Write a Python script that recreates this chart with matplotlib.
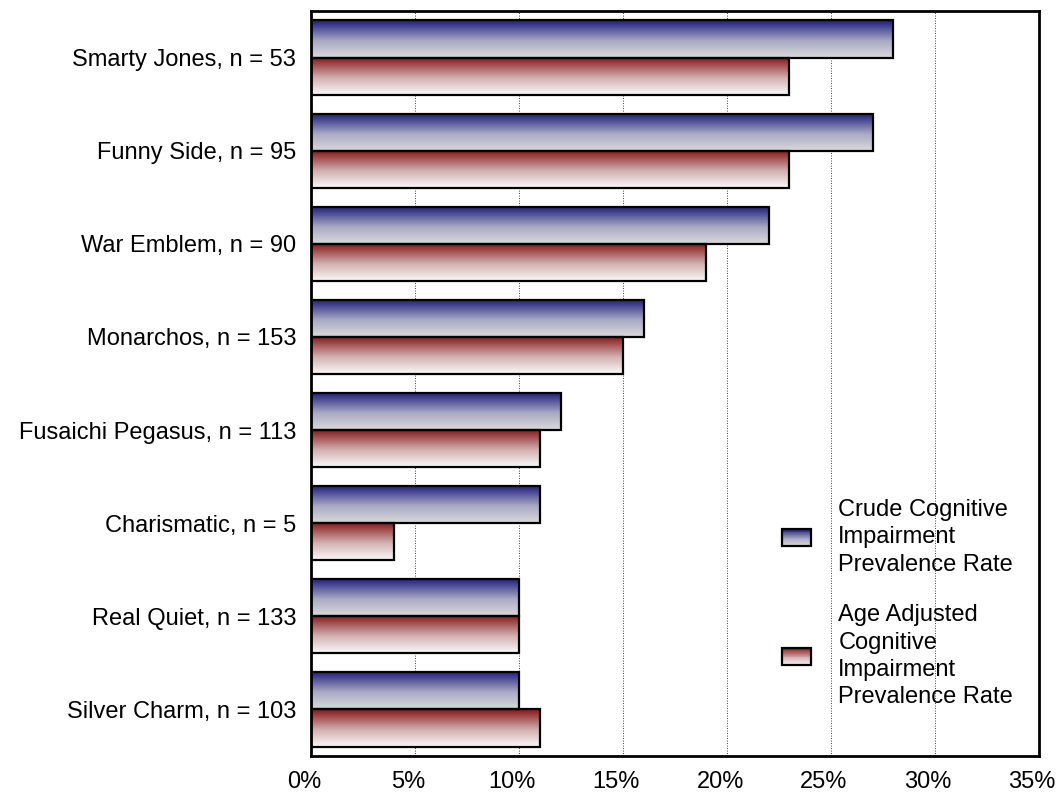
import matplotlib
matplotlib.use("Agg")
import matplotlib.pyplot as plt
import matplotlib.transforms as mtrans
import numpy as np
from matplotlib.patches import Rectangle
from matplotlib.legend_handler import HandlerPatch
from matplotlib.colors import LinearSegmentedColormap

plt.rcParams['font.family'] = ['Liberation Sans', 'DejaVu Sans']

# data
horses = ['Smarty Jones, n = 53', 'Funny Side, n = 95', 'War Emblem, n = 90',
          'Monarchos, n = 153', 'Fusaichi Pegasus, n = 113', 'Charismatic, n = 5',
          'Real Quiet, n = 133', 'Silver Charm, n = 103']
crude = [28, 27, 22, 16, 12, 11, 10, 10]
adjusted = [23, 23, 19, 15, 11, 4, 10, 11]
series_names = ['Crude Cognitive\nImpairment\nPrevalence Rate',
                'Age Adjusted\nCognitive\nImpairment\nPrevalence Rate']

# gradient colours (top -> bottom)
blue_cm = LinearSegmentedColormap.from_list('b', [(0, '#1c1c7c'), (0.55, '#a9a9c4'), (1, '#dadada')])
red_cm = LinearSegmentedColormap.from_list('r', [(0, '#861818'), (0.55, '#d2b0b0'), (1, '#f9f9f9')])

FS = 17

fig = plt.figure(figsize=(10.59, 7.94), dpi=100)
ax = fig.add_axes([0.294, 0.048, 0.687, 0.938])

h = 0.4
grad = np.linspace(0, 1, 64).reshape(-1, 1)


def gbar(y, w, cm):
    # y is the top edge (axis inverted)
    ax.imshow(grad, cmap=cm, aspect='auto', extent=(0, w, y + h, y),
              interpolation='bilinear', zorder=2)
    ax.add_patch(Rectangle((0, y), w, h, fill=False, ec='black', lw=1.6, zorder=3))


for i in range(len(horses)):
    gbar(i - h, crude[i], blue_cm)
    gbar(i, adjusted[i], red_cm)

ax.set_xlim(0, 35)
ax.set_ylim(len(horses) - 0.5, -0.5)
ax.set_xticks(np.arange(0, 36, 5))
ax.set_xticklabels(['%d%%' % v for v in range(0, 36, 5)], fontsize=FS)
ax.set_yticks(range(len(horses)))
ax.set_yticklabels(horses, fontsize=FS)
ax.tick_params(length=0, pad=11)
ax.tick_params(axis='x', pad=11)
# x labels sit a little left of their gridlines in the original
shift = mtrans.ScaledTranslation(-0.07, 0, fig.dpi_scale_trans)
for lab in ax.get_xticklabels():
    lab.set_transform(lab.get_transform() + shift)
ax.grid(axis='x', color='black', ls=(0, (1, 2)), lw=0.6, zorder=1)
ax.set_axisbelow(True)
for s in ax.spines.values():
    s.set_linewidth(2)


class GradHandler(HandlerPatch):
    def __init__(self, cm):
        super().__init__()
        self.cm = cm

    def create_artists(self, legend, orig_handle, xdescent, ydescent, width,
                       height, fontsize, trans):
        arts = []
        n = 20
        for k in range(n):
            c = self.cm(k / (n - 1))
            arts.append(Rectangle((-xdescent, -ydescent + height * (n - 1 - k) / n),
                                  width, height / n, fc=c, ec='none', transform=trans))
        arts.append(Rectangle((-xdescent, -ydescent), width, height, fill=False,
                              ec='black', lw=1.6, transform=trans))
        return arts


hb = Rectangle((0, 0), 1, 1)
hr = Rectangle((0, 0), 1, 1)
leg = ax.legend([hb, hr], series_names, loc='upper left', bbox_to_anchor=(0.647, 0.345),
                frameon=False, fontsize=FS, handlelength=1.23, handleheight=0.76,
                handletextpad=1.15, labelspacing=1.2, borderpad=0, borderaxespad=0,
                handler_map={hb: GradHandler(blue_cm), hr: GradHandler(red_cm)})
for t in leg.get_texts():
    t.set_linespacing(1.32)

fig.savefig('out.png', dpi=100)
